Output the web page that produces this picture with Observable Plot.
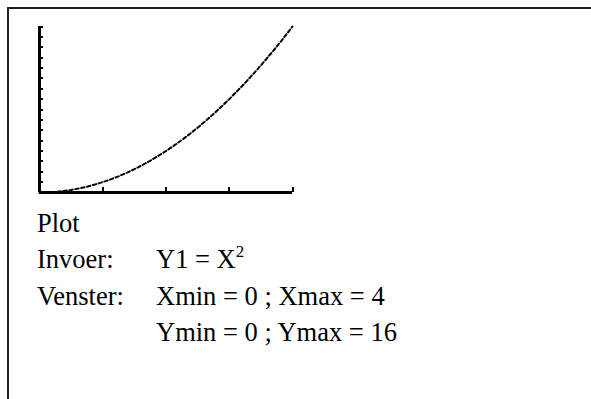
<!DOCTYPE html>
<html>
<head>
<meta charset="utf-8">
<script src="https://cdn.jsdelivr.net/npm/d3@7"></script>
<script src="https://cdn.jsdelivr.net/npm/@observablehq/plot@0.6"></script>
<style>
  html, body { margin: 0; padding: 0; background: #fff; }
  body { width: 591px; height: 399px; position: relative; overflow: hidden;
         font-family: "Liberation Serif", "Times New Roman", serif; color: #000; }
  #frame { position: absolute; left: 7px; top: 7px; width: 700px; height: 500px;
           border-top: 2px solid #222; border-left: 2px solid #222; }
  #chart { position: absolute; left: 0; top: 0; }
  .row { position: absolute; font-size: 26.5px; line-height: 1; white-space: nowrap; }
  .lab { left: 37px; }
  .val { left: 156px; }
  sup { font-size: 17px; vertical-align: 11px; line-height: 0; }
</style>
</head>
<body>
<div id="frame"></div>
<div id="chart"></div>
<div class="row lab" style="top:210px">Plot</div>
<div class="row lab" style="top:246px">Invoer:</div>
<div class="row val" style="top:246px">Y1 = X<sup>2</sup></div>
<div class="row lab" style="top:283px">Venster:</div>
<div class="row val" style="top:283px">Xmin = 0 ; Xmax = 4</div>
<div class="row val" style="top:319px">Ymin = 0 ; Ymax = 16</div>
<script>
// Window settings of the graph screen
const xWindow = [0, 4];
const yWindow = [0, 16];

// Tick positions along each axis (Xscl = 1, Yscl = 1)
const xTicks = [1, 2, 3, 4];
const yTicks = [1, 2, 3, 4, 5, 6, 7, 8, 9, 10, 11, 12, 13, 14, 15, 16];

// Traced points of Y1 = X^2
const xs = [0, 0.125, 0.25, 0.375, 0.5, 0.625, 0.75, 0.875, 1, 1.125, 1.25, 1.375, 1.5,
            1.625, 1.75, 1.875, 2, 2.125, 2.25, 2.375, 2.5, 2.625, 2.75, 2.875, 3,
            3.125, 3.25, 3.375, 3.5, 3.625, 3.75, 3.875, 4];
const ys = [0, 0.02, 0.06, 0.14, 0.25, 0.39, 0.56, 0.77, 1, 1.27, 1.56, 1.89, 2.25,
            2.64, 3.06, 3.52, 4, 4.52, 5.06, 5.64, 6.25, 6.89, 7.56, 8.27, 9,
            9.77, 10.56, 11.39, 12.25, 13.14, 14.06, 15.02, 16];

const points = xs.map((x, i) => ({x, y: ys[i]}));

const plot = Plot.plot({
  width: 320,
  height: 200,
  marginLeft: 39,
  marginRight: 28,
  marginTop: 26,
  marginBottom: 8,
  x: {domain: xWindow, axis: null},
  y: {domain: yWindow, axis: null},
  marks: [
    // tick marks pointing into the window
    Plot.ruleY(yTicks, {y: d => d, x1: 0, x2: 0.07, stroke: "#000", strokeWidth: 2,
                        shapeRendering: "crispEdges"}),
    Plot.ruleX(xTicks, {x: d => d, y1: 0, y2: 0.45, stroke: "#000", strokeWidth: 2,
                        shapeRendering: "crispEdges"}),
    // axes
    Plot.ruleX([0], {y1: 0, y2: 16, stroke: "#000", strokeWidth: 3, shapeRendering: "crispEdges"}),
    Plot.ruleY([0], {x1: 0, x2: 4, stroke: "#000", strokeWidth: 3, shapeRendering: "crispEdges"}),
    // the graph, drawn as short pixel-like dashes
    Plot.line(points, {x: "x", y: "y", stroke: "#000", strokeWidth: 2,
                       strokeDasharray: "3.5,2.5"})
  ]
});
document.getElementById("chart").appendChild(plot);
</script>
</body>
</html>
